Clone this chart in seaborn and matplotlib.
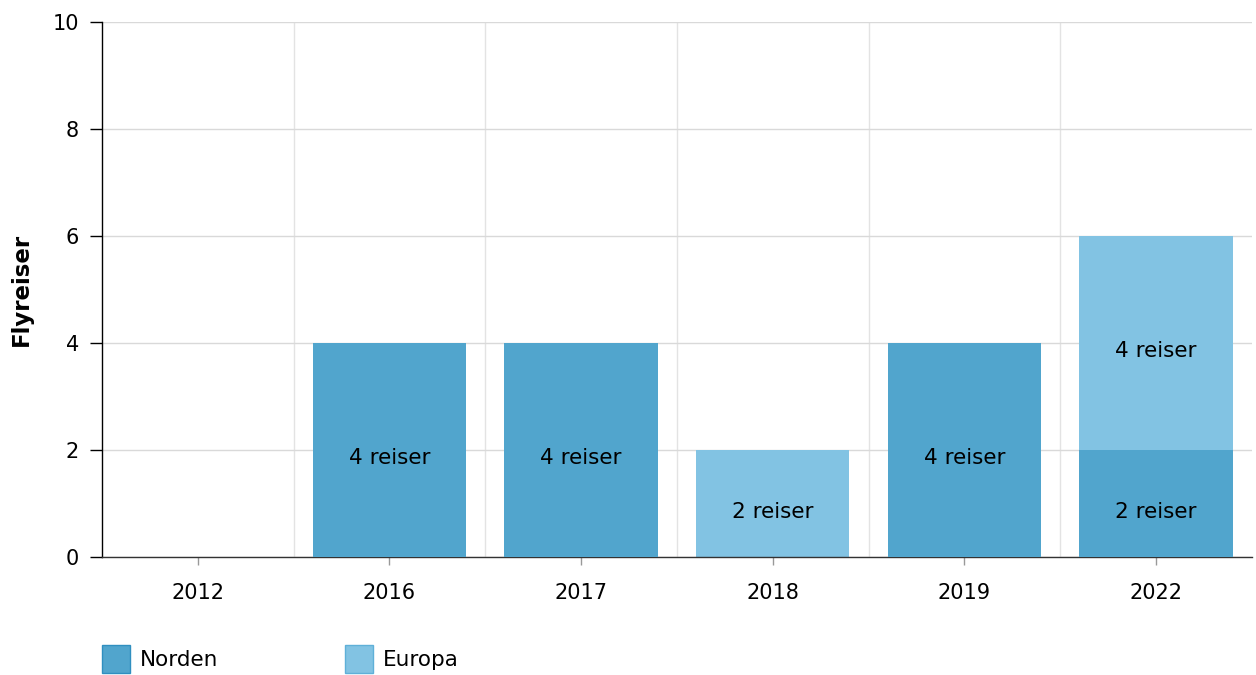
import matplotlib
matplotlib.use("Agg")
import matplotlib.pyplot as plt
from matplotlib.patches import Patch
import numpy as np
import pandas as pd
import seaborn as sns

years = ["2012", "2016", "2017", "2018", "2019", "2022"]
norden = [0, 4, 4, 0, 4, 2]
europa = [0, 0, 0, 2, 0, 4]

c_norden = "#51a5cd"
c_europa = "#82c3e3"

df = pd.DataFrame({"year": years, "Norden": norden, "Europa": europa})
df["total"] = df["Norden"] + df["Europa"]

sns.set_style("white")
plt.rcParams["font.family"] = ["DejaVu Sans"]
plt.rcParams["text.color"] = "black"

fig = plt.figure(figsize=(12.56, 6.75), dpi=100)
ax = fig.add_axes([0.0812, 0.1748, 0.9156, 0.7926])

# stacked: draw totals in Europa colour, Norden on top of it
sns.barplot(data=df, x="year", y="total", color=c_europa, width=0.8,
            saturation=1, linewidth=0, ax=ax, zorder=2)
sns.barplot(data=df, x="year", y="Norden", color=c_norden, width=0.8,
            saturation=1, linewidth=0, ax=ax, zorder=3)

for i, row in df.iterrows():
    if row["Norden"] > 0:
        ax.annotate(f"{row['Norden']} reiser", (i, row["Norden"] / 2),
                    xytext=(0, -6), textcoords="offset points",
                    ha="center", va="center", fontsize=15.5, color="black",
                    zorder=5)
    if row["Europa"] > 0:
        ax.annotate(f"{row['Europa']} reiser",
                    (i, row["Norden"] + row["Europa"] / 2),
                    xytext=(0, -6), textcoords="offset points",
                    ha="center", va="center", fontsize=15.5, color="black",
                    zorder=5)

ax.set_xlim(-0.5, len(years) - 0.5)
ax.set_ylim(0, 10)
ax.set_yticks(range(0, 11, 2))
ax.set_xticks(np.arange(len(years) - 1) + 0.5, minor=True)
ax.grid(axis="y", which="major", color="#d9d9d9", lw=1, zorder=0)
ax.grid(axis="x", which="minor", color="#e3e3e3", lw=1, zorder=0)
ax.set_axisbelow(True)
ax.tick_params(axis="y", which="major", left=True, direction="out",
               length=8.5, width=1, color="black", labelsize=15,
               labelcolor="black", pad=8)
ax.tick_params(axis="x", which="major", bottom=True, direction="out",
               length=6, width=1, color="#999999", labelsize=15,
               labelcolor="black", pad=13)
ax.tick_params(axis="x", which="minor", length=0)

for s in ["top", "right"]:
    ax.spines[s].set_visible(False)
ax.spines["left"].set_color("black")
ax.spines["bottom"].set_color("#333333")
ax.spines["left"].set_linewidth(1)
ax.spines["bottom"].set_linewidth(1)

ax.set_xlabel("")
ax.set_ylabel("Flyreiser", fontsize=16.5, fontweight="bold", color="black",
              labelpad=14)

handles = [Patch(facecolor=c_norden, edgecolor="#2f8fc0", label="Norden"),
           Patch(facecolor=c_europa, edgecolor="#5fb0d8", label="Europa")]
fig.legend(handles=handles, loc="lower left", bbox_to_anchor=(0.072, -0.014),
           ncol=2, frameon=False, fontsize=15.5, handlelength=1.3,
           handleheight=1.6, handletextpad=0.45, columnspacing=5.9,
           borderaxespad=0.15)

fig.savefig("out.png", dpi=100)
